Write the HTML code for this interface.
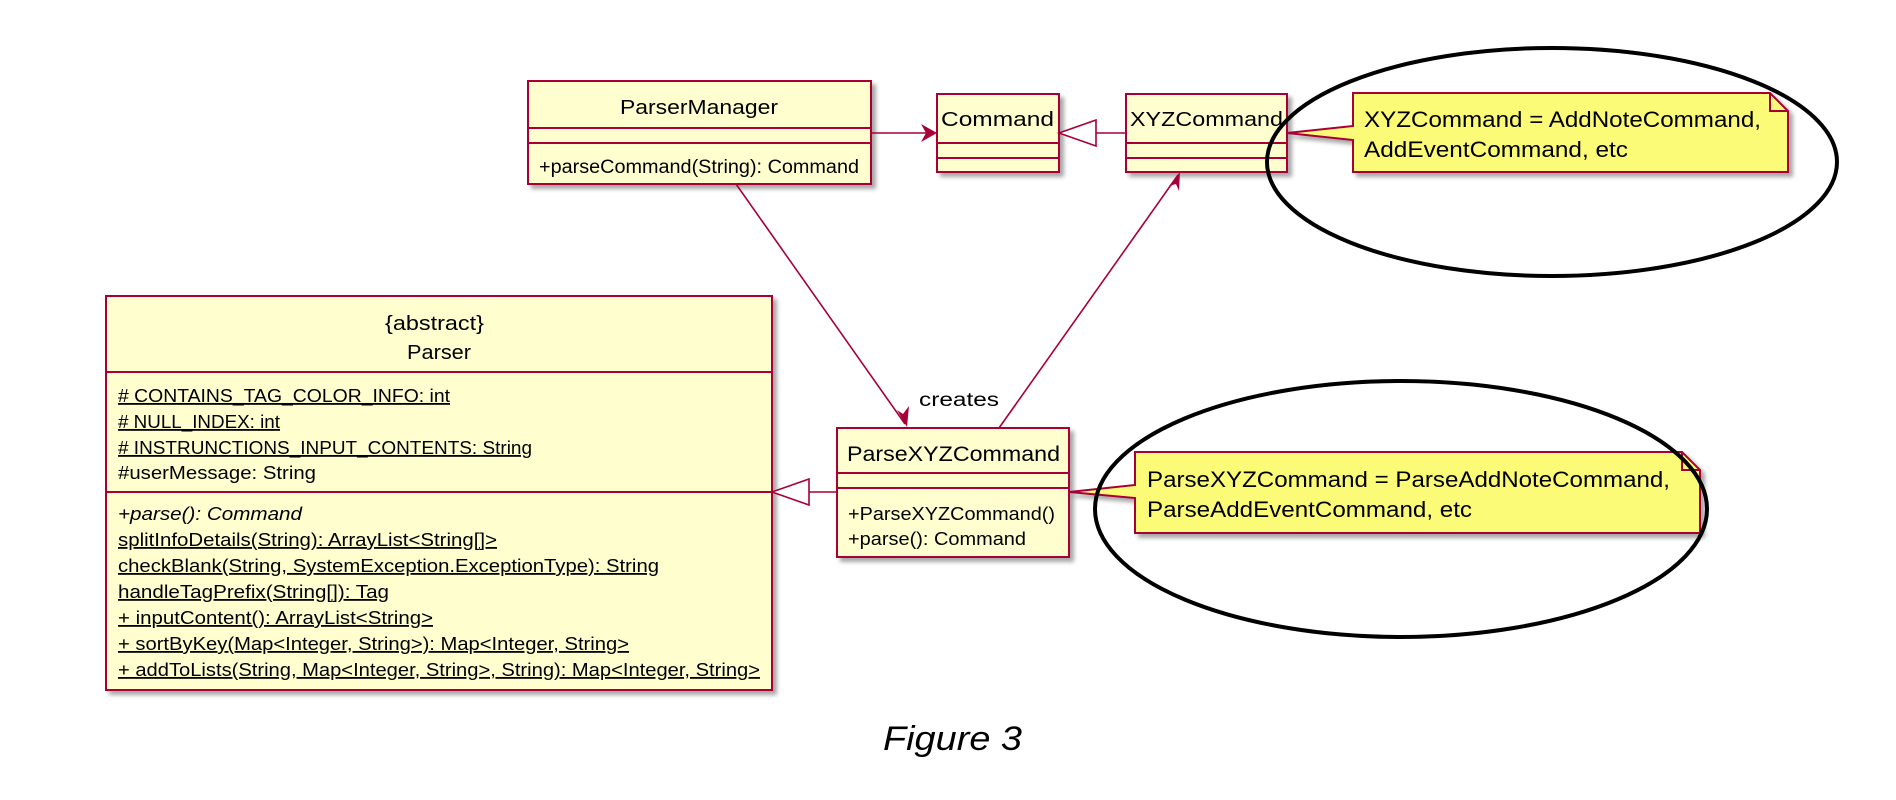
<!DOCTYPE html>
<html><head><meta charset="utf-8"><style>
html,body{margin:0;padding:0;background:#fff;width:1896px;height:800px;overflow:hidden}
svg{display:block}
text{font-family:"Liberation Sans",sans-serif;fill:#000}
</style></head><body>
<svg width="1896" height="800" viewBox="0 0 1896 800" xmlns="http://www.w3.org/2000/svg">
<defs>
<filter id="sh" x="-5%" y="-5%" width="115%" height="130%"><feGaussianBlur in="SourceAlpha" stdDeviation="2"/><feOffset dx="4" dy="4"/><feComponentTransfer><feFuncA type="linear" slope="0.35"/></feComponentTransfer><feMerge><feMergeNode/><feMergeNode in="SourceGraphic"/></feMerge></filter>
</defs>
<g stroke="#A80036" stroke-width="2" fill="#FEFECE">
<rect x="528" y="81" width="343" height="103" filter="url(#sh)"/>
<line x1="528" y1="128" x2="871" y2="128"/><line x1="528" y1="143" x2="871" y2="143"/>
<rect x="937" y="94" width="122" height="78" filter="url(#sh)"/>
<line x1="937" y1="143" x2="1059" y2="143"/><line x1="937" y1="158" x2="1059" y2="158"/>
<rect x="1126" y="94" width="161" height="78" filter="url(#sh)"/>
<line x1="1126" y1="143" x2="1287" y2="143"/><line x1="1126" y1="158" x2="1287" y2="158"/>
<rect x="106" y="296" width="666" height="394" filter="url(#sh)"/>
<line x1="106" y1="372" x2="772" y2="372"/><line x1="106" y1="492" x2="772" y2="492"/>
<rect x="837" y="428" width="232" height="129" filter="url(#sh)"/>
<line x1="837" y1="473" x2="1069" y2="473"/><line x1="837" y1="488" x2="1069" y2="488"/>
</g>
<g stroke="#A80036" stroke-width="2" fill="#FBFB77">
<path d="M1353,93 L1770,93 L1788,111 L1788,172 L1353,172 L1353,140 L1287,133 L1353,126 Z" filter="url(#sh)"/>
<path d="M1770,93 L1770,111 L1788,111" fill="none"/>
<path d="M1135,452 L1682,452 L1700,470 L1700,533 L1135,533 L1135,498 L1069,492 L1135,485 Z" filter="url(#sh)"/>
<path d="M1682,452 L1682,470 L1700,470" fill="none"/>
</g>
<g stroke="#A80036" stroke-width="1.6" fill="none">
<line x1="871" y1="133" x2="934" y2="133"/>
<line x1="1096" y1="133" x2="1126" y2="133"/>
<polygon points="1059,133 1096,120 1096,146" fill="#fff"/>
<line x1="809" y1="492" x2="837" y2="492"/>
<polygon points="772,492 809,479 809,505" fill="#fff"/>
<line x1="736" y1="184" x2="905" y2="424"/>
<line x1="999" y1="428" x2="1178" y2="175"/>
</g>
<g fill="#A80036" stroke="none">
<polygon points="937,133 921,124 926,133 921,142"/>
<polygon points="907,427 897,410 903,414 909,406"/>
<polygon points="1180,172 1179,191 1176,184 1169,186"/>
</g>
<g stroke="#000" stroke-width="4" fill="none">
<ellipse cx="1552" cy="162" rx="285" ry="114"/>
<ellipse cx="1401" cy="509" rx="306" ry="128"/>
</g>
<g font-size="20">
<text x="620" y="114" textLength="158" lengthAdjust="spacingAndGlyphs">ParserManager</text>
<text x="539" y="173" textLength="320" lengthAdjust="spacingAndGlyphs" font-size="19">+parseCommand(String): Command</text>
<text x="941" y="126" textLength="113" lengthAdjust="spacingAndGlyphs">Command</text>
<text x="1130" y="126" textLength="153" lengthAdjust="spacingAndGlyphs">XYZCommand</text>
<text x="1364" y="127" textLength="397" lengthAdjust="spacingAndGlyphs" font-size="22">XYZCommand = AddNoteCommand,</text>
<text x="1364" y="157" textLength="264" lengthAdjust="spacingAndGlyphs" font-size="22">AddEventCommand, etc</text>
<text x="1147" y="487" textLength="523" lengthAdjust="spacingAndGlyphs" font-size="22">ParseXYZCommand = ParseAddNoteCommand,</text>
<text x="1147" y="517" textLength="325" lengthAdjust="spacingAndGlyphs" font-size="22">ParseAddEventCommand, etc</text>
<text x="847" y="461" textLength="213" lengthAdjust="spacingAndGlyphs" font-size="21">ParseXYZCommand</text>
<text x="848" y="520" textLength="207" lengthAdjust="spacingAndGlyphs" font-size="18">+ParseXYZCommand()</text>
<text x="848" y="545" textLength="178" lengthAdjust="spacingAndGlyphs" font-size="18">+parse(): Command</text>
<text x="919" y="406" textLength="80" lengthAdjust="spacingAndGlyphs" font-size="19">creates</text>
<text x="385" y="330" textLength="99" lengthAdjust="spacingAndGlyphs">{abstract}</text>
<text x="407" y="359" textLength="64" lengthAdjust="spacingAndGlyphs">Parser</text>
</g>
<g font-size="18">
<text x="118" y="402" textLength="332" lengthAdjust="spacingAndGlyphs" text-decoration="underline"># CONTAINS_TAG_COLOR_INFO: int</text>
<text x="118" y="428" textLength="162" lengthAdjust="spacingAndGlyphs" text-decoration="underline"># NULL_INDEX: int</text>
<text x="118" y="454" textLength="414" lengthAdjust="spacingAndGlyphs" text-decoration="underline"># INSTRUNCTIONS_INPUT_CONTENTS: String </text>
<text x="118" y="479" textLength="198" lengthAdjust="spacingAndGlyphs">#userMessage: String</text>
<text x="118" y="520" textLength="184" lengthAdjust="spacingAndGlyphs" font-style="italic">+parse(): Command</text>
<text x="118" y="546" textLength="379" lengthAdjust="spacingAndGlyphs" text-decoration="underline">splitInfoDetails(String): ArrayList&lt;String[]&gt;</text>
<text x="118" y="572" textLength="541" lengthAdjust="spacingAndGlyphs" text-decoration="underline">checkBlank(String, SystemException.ExceptionType): String</text>
<text x="118" y="598" textLength="271" lengthAdjust="spacingAndGlyphs" text-decoration="underline">handleTagPrefix(String[]): Tag</text>
<text x="118" y="624" textLength="315" lengthAdjust="spacingAndGlyphs" text-decoration="underline">+ inputContent(): ArrayList&lt;String&gt;</text>
<text x="118" y="650" textLength="511" lengthAdjust="spacingAndGlyphs" text-decoration="underline">+ sortByKey(Map&lt;Integer, String&gt;): Map&lt;Integer, String&gt;</text>
<text x="118" y="676" textLength="642" lengthAdjust="spacingAndGlyphs" text-decoration="underline">+ addToLists(String, Map&lt;Integer, String&gt;, String): Map&lt;Integer, String&gt;</text>
</g>
<text x="883" y="750" textLength="139" lengthAdjust="spacingAndGlyphs" font-size="34" font-style="italic">Figure 3</text>
</svg>
</body></html>
